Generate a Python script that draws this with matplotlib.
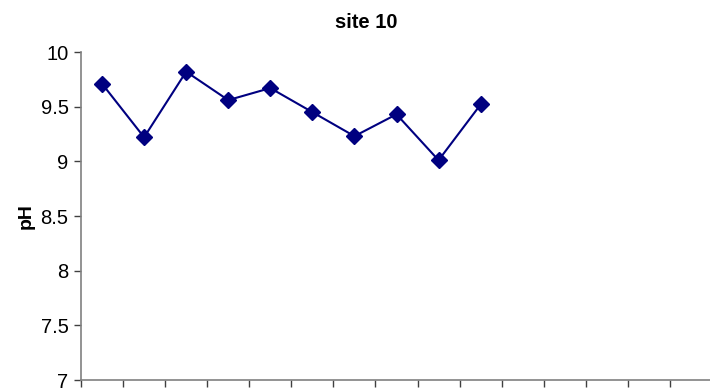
import matplotlib
matplotlib.use("Agg")
import matplotlib.pyplot as plt
import numpy as np

plt.rcParams['font.family'] = ['Liberation Sans', 'DejaVu Sans']

# pH readings for site 10, one per sampling date
samples = [1, 2, 3, 4, 5, 6, 7, 8, 9, 10]
ph_values = [9.71, 9.22, 9.82, 9.56, 9.67, 9.45, 9.23, 9.43, 9.01, 9.52]
n_slots = 15
y_ticks = [7, 7.5, 8, 8.5, 9, 9.5, 10]
y_labels = ['7', '7.5', '8', '8.5', '9', '9.5', '10']

fig = plt.figure(figsize=(7.10, 3.88), dpi=100)
ax = fig.add_axes([81 / 710, 8 / 388, 631 / 710, 328 / 388])

x = np.array(samples) - 0.5
ax.plot(x, ph_values, color='#000080', linewidth=1.5, marker='D',
        markersize=8, markerfacecolor='#000080', markeredgecolor='#000080')

ax.set_xlim(0, n_slots)
ax.set_ylim(7, 10)
ax.set_xticks(range(n_slots + 1))
ax.set_xticklabels([])
ax.set_yticks(y_ticks)
ax.set_yticklabels(y_labels, fontsize=14.5)

for side in ['top', 'right']:
    ax.spines[side].set_visible(False)
for side in ['left', 'bottom']:
    ax.spines[side].set_color('#808080')
    ax.spines[side].set_linewidth(1.2)
ax.tick_params(axis='both', direction='out', length=5, width=1,
               color='#404040', pad=4)

ax.set_ylabel('pH', fontsize=14, fontweight='bold', labelpad=4)
fig.text(366 / 710, 1 - 23 / 388, 'site 10', ha='center', va='center',
         fontsize=14.5, fontweight='bold')

fig.savefig('out.png', dpi=100)
